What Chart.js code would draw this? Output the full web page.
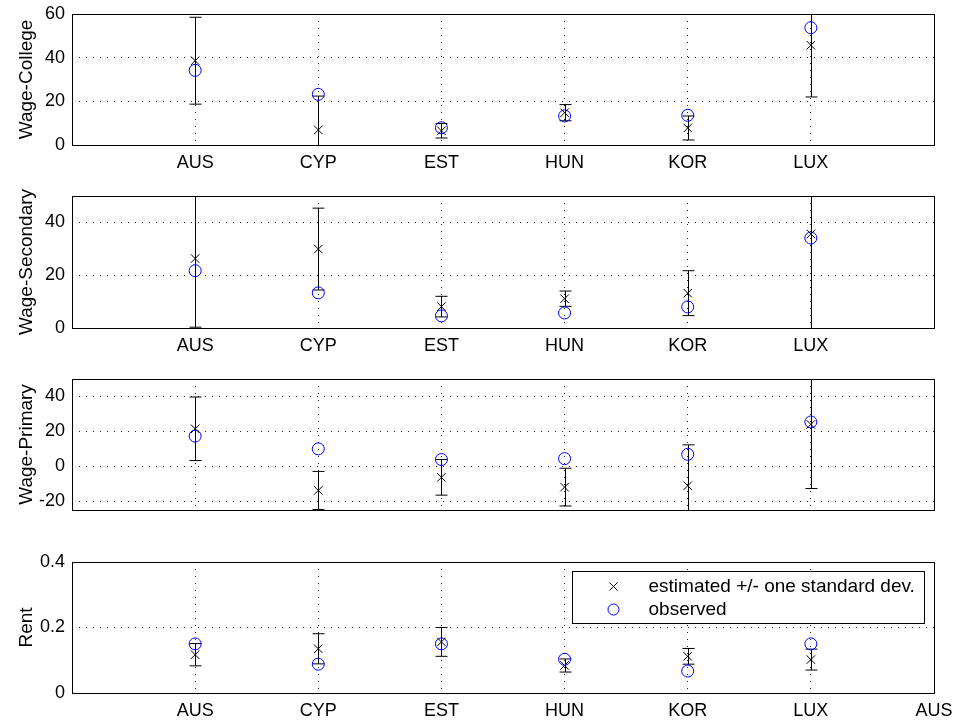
<!DOCTYPE html>
<html>
<head>
<meta charset="utf-8">
<script src="https://cdn.jsdelivr.net/npm/chart.js@4.4.0/dist/chart.umd.min.js"></script>
<style>
body{margin:0;background:#fff;}
#wrap{position:relative;width:956px;height:722px;}
canvas{position:absolute;left:0;}
</style>
</head>
<body>
<div id="wrap">
<canvas id="c1" width="956" height="180" style="top:0px"></canvas>
<canvas id="c2" width="956" height="180" style="top:180px"></canvas>
<canvas id="c3" width="956" height="180" style="top:360px"></canvas>
<canvas id="c4" width="956" height="182" style="top:540px"></canvas>
</div>
<script>
// categories (the bottom axis repeats AUS at the 7th tick, like the original)
const countries = ['AUS','CYP','EST','HUN','KOR','LUX'];
const bottomLabels = ['AUS','CYP','EST','HUN','KOR','LUX','AUS'];

// Wage-College
const collegeEst = [38.6, 6.9, 6.5, 14.8, 7.8, 45.7];
const collegeSd  = [19.9, 15.5, 3.3, 3.7, 5.5, 23.7];
const collegeObs = [34.2, 23.2, 7.9, 13.3, 13.6, 53.7];
const collegeTicks = [0, 20, 40, 60];

// Wage-Secondary
const secondaryEst = [26.3, 29.9, 8.1, 11.1, 13.2, 35.6];
const secondarySd  = [26.0, 15.5, 3.9, 2.9, 8.5, 40.0];
const secondaryObs = [21.7, 13.3, 4.6, 5.7, 8.0, 34.1];
const secondaryTicks = [0, 20, 40];

// Wage-Primary
const primaryEst = [21.5, -13.8, -6.3, -11.9, -11.1, 24.0];
const primarySd  = [18.2, 10.9, 10.2, 10.8, 23.4, 36.7];
const primaryObs = [17.3, 10.0, 3.9, 4.4, 6.9, 25.4];
const primaryTicks = [-20, 0, 20, 40];

// Rent
const rentEst = [0.117, 0.135, 0.156, 0.084, 0.112, 0.102];
const rentSd  = [0.034, 0.046, 0.044, 0.020, 0.024, 0.032];
const rentObs = [0.150, 0.088, 0.150, 0.103, 0.067, 0.150];
const rentTicks = [0, 0.2, 0.4];

const legendLabels = ['estimated +/- one standard dev.', 'observed'];

const FONT = 'Liberation Sans, Arial, Helvetica, sans-serif';

const errorBars = {
    id: 'errorBars',
    beforeDatasetsDraw(chart) {
        const ctx = chart.ctx, a = chart.chartArea;
        const xs = chart.scales.x, ys = chart.scales.y;
        const ds = chart.data.datasets[0];
        ctx.save();
        ctx.beginPath();
        ctx.rect(a.left, a.top, a.right - a.left, a.bottom - a.top);
        ctx.clip();
        ctx.strokeStyle = '#000';
        ctx.lineWidth = 1;
        ds.data.forEach((p, i) => {
            const x = Math.round(xs.getPixelForValue(p.x)) + 0.5;
            const lo = ys.getPixelForValue(p.y - ds.sd[i]);
            const hi = ys.getPixelForValue(p.y + ds.sd[i]);
            ctx.beginPath();
            ctx.moveTo(x, lo); ctx.lineTo(x, hi);
            ctx.moveTo(x - 6, lo); ctx.lineTo(x + 6, lo);
            ctx.moveTo(x - 6, hi); ctx.lineTo(x + 6, hi);
            ctx.stroke();
        });
        ctx.restore();
    },
    afterDraw(chart) {
        const ctx = chart.ctx, a = chart.chartArea;
        ctx.save();
        ctx.strokeStyle = '#000';
        ctx.lineWidth = 1;
        ctx.strokeRect(Math.round(a.left) + 0.5, Math.round(a.top) + 0.5,
            Math.round(a.right - a.left), Math.round(a.bottom - a.top));
        ctx.restore();
    }
};

const legendBox = {
    id: 'legendBox',
    afterDraw(chart) {
        const ctx = chart.ctx, a = chart.chartArea;
        const bx = a.right - 361.5, by = a.top + 9.5, bw = 352, bh = 52;
        ctx.save();
        ctx.fillStyle = '#fff';
        ctx.fillRect(bx, by, bw, bh);
        ctx.strokeStyle = '#000';
        ctx.lineWidth = 1;
        ctx.strokeRect(bx, by, bw, bh);
        const mx = bx + 41, y1 = by + 15, y2 = by + 38;
        ctx.beginPath();
        ctx.moveTo(mx - 4, y1 - 4); ctx.lineTo(mx + 4, y1 + 4);
        ctx.moveTo(mx + 4, y1 - 4); ctx.lineTo(mx - 4, y1 + 4);
        ctx.stroke();
        ctx.strokeStyle = '#0000ff';
        ctx.beginPath();
        ctx.arc(mx, y2, 5.5, 0, Math.PI * 2);
        ctx.stroke();
        ctx.fillStyle = '#000';
        ctx.font = '19px ' + FONT;
        ctx.textBaseline = 'middle';
        ctx.fillText(legendLabels[0], bx + 76, y1);
        ctx.fillText(legendLabels[1], bx + 76, y2);
        ctx.restore();
    }
};

function makeChart(id, est, sd, obs, yMin, yMax, yTicks, yTitle, xLabels, padTop, xHeight, extra) {
    const ctx = document.getElementById(id).getContext('2d');
    return new Chart(ctx, {
        type: 'scatter',
        data: {
            datasets: [
                {
                    label: 'estimated',
                    data: est.map((v, i) => ({x: i + 1, y: v})),
                    sd: sd,
                    pointStyle: 'crossRot',
                    pointRadius: 6,
                    borderColor: '#000',
                    borderWidth: 1,
                    backgroundColor: '#000'
                },
                {
                    label: 'observed',
                    data: obs.map((v, i) => ({x: i + 1, y: v})),
                    pointStyle: 'circle',
                    pointRadius: 6,
                    borderColor: '#0000ff',
                    borderWidth: 1,
                    backgroundColor: 'rgba(0,0,0,0)'
                }
            ]
        },
        options: {
            responsive: false,
            animation: false,
            layout: {padding: {top: padTop, right: 22, left: 0, bottom: 0}},
            plugins: {legend: {display: false}, tooltip: {enabled: false}},
            scales: {
                x: {
                    type: 'linear',
                    min: 0, max: 7,
                    afterBuildTicks: s => { s.ticks = [1, 2, 3, 4, 5, 6, 7].map(v => ({value: v})); },
                    afterFit: s => { s.height = xHeight; s.paddingLeft = 0; s.paddingRight = 0; },
                    grid: {color: '#222', lineWidth: 1, drawTicks: false},
                    border: {display: false, dash: [1, 6]},
                    ticks: {
                        display: xLabels !== null,
                        autoSkip: false, maxRotation: 0, padding: 7,
                        color: '#000',
                        font: {family: FONT, size: 18},
                        callback: v => (xLabels && xLabels[v - 1]) || ''
                    }
                },
                y: {
                    min: yMin, max: yMax,
                    afterBuildTicks: s => { s.ticks = yTicks.map(v => ({value: v})); },
                    afterFit: s => { s.width = 72; s.paddingTop = 0; s.paddingBottom = 0; },
                    grid: {color: '#222', lineWidth: 1, drawTicks: false},
                    border: {display: false, dash: [1, 6]},
                    ticks: {
                        padding: 7, color: '#000',
                        font: {family: FONT, size: 18},
                        callback: v => String(v)
                    },
                    title: {
                        display: true, text: yTitle, color: '#000',
                        font: {family: FONT, size: 19},
                        padding: {top: 15, bottom: 0}
                    }
                }
            }
        },
        plugins: extra ? [errorBars, extra] : [errorBars]
    });
}

makeChart('c1', collegeEst, collegeSd, collegeObs, 0, 60, collegeTicks, 'Wage-College', countries, 14, 35);
makeChart('c2', secondaryEst, secondarySd, secondaryObs, 0, 50, secondaryTicks, 'Wage-Secondary', countries, 16, 32);
makeChart('c3', primaryEst, primarySd, primaryObs, -25, 50, primaryTicks, 'Wage-Primary', null, 19, 30);
makeChart('c4', rentEst, rentSd, rentObs, 0, 0.4, rentTicks, 'Rent', bottomLabels, 22, 29, legendBox);
</script>
</body>
</html>
